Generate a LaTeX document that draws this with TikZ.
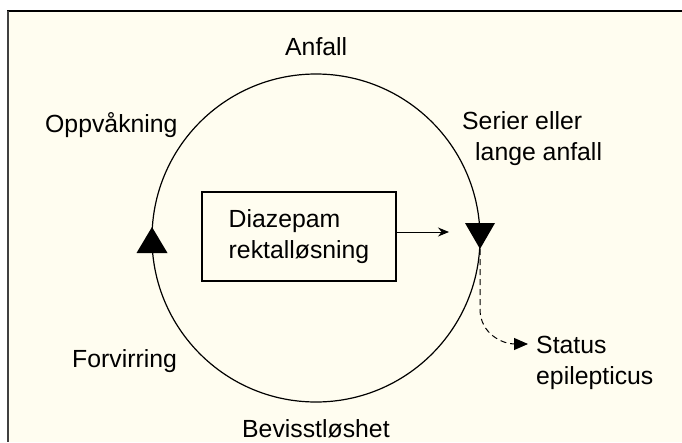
\documentclass[tikz,border=0pt]{standalone}
\usepackage{fontspec}
\setmainfont{Liberation Sans}
\usetikzlibrary{positioning,arrows.meta}
\definecolor{cream}{HTML}{FFFDF0}

\begin{document}
\begin{tikzpicture}[x=1pt, y=-1pt, font=\fontsize{24.8}{30.5}\selectfont,
  lbl/.style={anchor=base west, inner sep=0pt},
  boxnode/.style={draw, line width=1.2pt, minimum width=194pt, minimum height=89pt, align=left}]
\useasboundingbox (0,0) rectangle (682,442);
% frame
\fill[cream] (8,11) rectangle (682,442);
\draw[line width=2pt] (7,11) -- (682,11);
\draw[line width=2pt, black!75] (8,11) -- (8,442);

% cycle
\node[circle, draw, line width=1.2pt, minimum size=328pt, inner sep=0pt] (cyc) at (316,238) {};
\coordinate (tipR) at (480,249);
\coordinate (tipL) at (152,227);
\fill (tipR) -- ++(-15,-26) -- ++(30,0) -- cycle;
\fill (tipL) -- ++(-15.5,26) -- ++(31,0) -- cycle;

% labels
\node[lbl] (anf) at (285,55) {Anfall};
\node[lbl] (opp) at (45,132) {Oppvåkning};
\node[lbl, align=left] (ser) at (462,160) {Serier eller\\\hspace*{13pt}lange anfall};
\node[lbl] (for) at (72,367) {Forvirring};
\node[lbl] (bev) at (242,437) {Bevisstløshet};
\node[lbl, align=left] (sta) at (536,384) {Status\\epilepticus};

% box
\node[boxnode] (dia) at (299,236.5) {Diazepam\\rektalløsning};
\coordinate (rin) at (449,232);
\draw[line width=1pt, -{Stealth[length=11pt,width=9pt]}] (dia.east |- rin) -- (rin);

% status
\coordinate (sttip) at (528,344);
\draw[line width=1pt, dash pattern=on 6pt off 4pt, -{Triangle[length=14pt,width=12pt]}]
  (tipR) -- ++(0,60) .. controls +(0,25) and +(-25,0) .. (sttip);
\end{tikzpicture}
\end{document}
